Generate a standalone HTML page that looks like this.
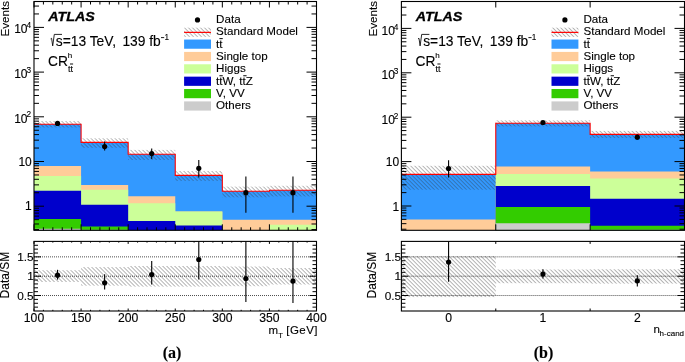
<!DOCTYPE html><html><head><meta charset="utf-8"><style>html,body{margin:0;padding:0;background:#fff;overflow:hidden;}svg{display:block;will-change:transform;filter:blur(0.3px);}text{stroke:#000;stroke-width:0.12px;}text.atl{stroke-width:0.3px;}</style></head><body><svg width="685" height="362" viewBox="0 0 685 362" font-family='"Liberation Sans", sans-serif'>
<defs>
<pattern id="hatchM" patternUnits="userSpaceOnUse" width="2.83" height="2.83" patternTransform="rotate(-45)"><line x1="0" y1="-1" x2="0" y2="3.83" stroke="#333" stroke-width="0.7"/></pattern>
<pattern id="hatchR" patternUnits="userSpaceOnUse" width="2.83" height="2.83" patternTransform="rotate(-45)"><line x1="0" y1="-1" x2="0" y2="3.83" stroke="#444" stroke-width="0.8"/></pattern>
</defs>
<rect width="685" height="362" fill="#fff"/>
<path d="M34,230.3 L34,124.3 L81.08,124.3 L81.08,142.4 L128.17,142.4 L128.17,154.2 L175.25,154.2 L175.25,175.4 L222.33,175.4 L222.33,191.2 L269.42,191.2 L269.42,190.2 L316.5,190.2 L316.5,230.3Z" fill="#3399ff"/>
<path d="M34,230.3 L34,166 L81.08,166 L81.08,185 L128.17,185 L128.17,196.3 L175.25,196.3 L175.25,211.4 L222.33,211.4 L222.33,219.7 L269.42,219.7 L269.42,219.7 L316.5,219.7 L316.5,230.3Z" fill="#ffcc99"/>
<path d="M34,230.3 L34,175.9 L81.08,175.9 L81.08,189.8 L128.17,189.8 L128.17,203.3 L175.25,203.3 L175.25,211.4 L222.33,211.4 L222.33,230.3 L269.42,230.3 L269.42,224.8 L316.5,224.8 L316.5,230.3Z" fill="#ccff99"/>
<path d="M34,230.3 L34,190.8 L81.08,190.8 L81.08,204.8 L128.17,204.8 L128.17,220.9 L175.25,220.9 L175.25,225.5 L222.33,225.5 L222.33,230.3 L269.42,230.3 L269.42,230.3 L316.5,230.3 L316.5,230.3Z" fill="#0000cc"/>
<path d="M34,230.3 L34,219.1 L81.08,219.1 L81.08,226.5 L128.17,226.5 L128.17,230.3 L175.25,230.3 L175.25,230.3 L222.33,230.3 L222.33,230.3 L269.42,230.3 L269.42,230.3 L316.5,230.3 L316.5,230.3Z" fill="#33cc00"/>
<path d="M34,230.3 L34,228.7 L81.08,228.7 L81.08,229.8 L128.17,229.8 L128.17,230.3 L175.25,230.3 L175.25,230.3 L222.33,230.3 L222.33,230.3 L269.42,230.3 L269.42,230.3 L316.5,230.3 L316.5,230.3Z" fill="#cccccc"/>
<rect x="34" y="121" width="47.08" height="6.5" fill="url(#hatchM)"/>
<rect x="81.08" y="138.3" width="47.08" height="9.5" fill="url(#hatchM)"/>
<rect x="128.17" y="149.9" width="47.08" height="10.1" fill="url(#hatchM)"/>
<rect x="175.25" y="171" width="47.08" height="9.9" fill="url(#hatchM)"/>
<rect x="222.33" y="186.6" width="47.08" height="10.7" fill="url(#hatchM)"/>
<rect x="269.42" y="185.8" width="47.08" height="10.6" fill="url(#hatchM)"/>
<path d="M34,124.3 L81.08,124.3 L81.08,142.4 L128.17,142.4 L128.17,154.2 L175.25,154.2 L175.25,175.4 L222.33,175.4 L222.33,191.2 L269.42,191.2 L269.42,190.2 L316.5,190.2" fill="none" stroke="#ff0000" stroke-width="1.1"/>
<path d="M34,1.5v6M34,230.3v-6M81.08,1.5v6M81.08,230.3v-6M128.17,1.5v6M128.17,230.3v-6M175.25,1.5v6M175.25,230.3v-6M222.33,1.5v6M222.33,230.3v-6M269.42,1.5v6M269.42,230.3v-6M316.5,1.5v6M316.5,230.3v-6M43.42,1.5v3M43.42,230.3v-3M52.83,1.5v3M52.83,230.3v-3M62.25,1.5v3M62.25,230.3v-3M71.67,1.5v3M71.67,230.3v-3M90.5,1.5v3M90.5,230.3v-3M99.92,1.5v3M99.92,230.3v-3M109.33,1.5v3M109.33,230.3v-3M118.75,1.5v3M118.75,230.3v-3M137.58,1.5v3M137.58,230.3v-3M147,1.5v3M147,230.3v-3M156.42,1.5v3M156.42,230.3v-3M165.83,1.5v3M165.83,230.3v-3M184.67,1.5v3M184.67,230.3v-3M194.08,1.5v3M194.08,230.3v-3M203.5,1.5v3M203.5,230.3v-3M212.92,1.5v3M212.92,230.3v-3M231.75,1.5v3M231.75,230.3v-3M241.17,1.5v3M241.17,230.3v-3M250.58,1.5v3M250.58,230.3v-3M260,1.5v3M260,230.3v-3M278.83,1.5v3M278.83,230.3v-3M288.25,1.5v3M288.25,230.3v-3M297.67,1.5v3M297.67,230.3v-3M307.08,1.5v3M307.08,230.3v-3M34,229.57h5M316.5,229.57h-5M34,223.99h5M316.5,223.99h-5M34,219.66h5M316.5,219.66h-5M34,216.12h5M316.5,216.12h-5M34,213.12h5M316.5,213.12h-5M34,210.53h5M316.5,210.53h-5M34,208.25h5M316.5,208.25h-5M34,206.2h10M316.5,206.2h-10M34,192.74h5M316.5,192.74h-5M34,184.87h5M316.5,184.87h-5M34,179.29h5M316.5,179.29h-5M34,174.96h5M316.5,174.96h-5M34,171.42h5M316.5,171.42h-5M34,168.42h5M316.5,168.42h-5M34,165.83h5M316.5,165.83h-5M34,163.55h5M316.5,163.55h-5M34,161.5h10M316.5,161.5h-10M34,148.04h5M316.5,148.04h-5M34,140.17h5M316.5,140.17h-5M34,134.59h5M316.5,134.59h-5M34,130.26h5M316.5,130.26h-5M34,126.72h5M316.5,126.72h-5M34,123.72h5M316.5,123.72h-5M34,121.13h5M316.5,121.13h-5M34,118.85h5M316.5,118.85h-5M34,116.8h10M316.5,116.8h-10M34,103.34h5M316.5,103.34h-5M34,95.47h5M316.5,95.47h-5M34,89.89h5M316.5,89.89h-5M34,85.56h5M316.5,85.56h-5M34,82.02h5M316.5,82.02h-5M34,79.02h5M316.5,79.02h-5M34,76.43h5M316.5,76.43h-5M34,74.15h5M316.5,74.15h-5M34,72.1h10M316.5,72.1h-10M34,58.64h5M316.5,58.64h-5M34,50.77h5M316.5,50.77h-5M34,45.19h5M316.5,45.19h-5M34,40.86h5M316.5,40.86h-5M34,37.32h5M316.5,37.32h-5M34,34.32h5M316.5,34.32h-5M34,31.73h5M316.5,31.73h-5M34,29.45h5M316.5,29.45h-5M34,27.4h10M316.5,27.4h-10M34,13.94h5M316.5,13.94h-5M34,6.07h5M316.5,6.07h-5" stroke="#000" stroke-width="1" fill="none"/>
<rect x="34" y="1.5" width="282.5" height="228.8" fill="none" stroke="#000" stroke-width="1.1"/>
<circle cx="57.54" cy="123.4" r="2.6" fill="#000"/>
<line x1="104.63" y1="141.6" x2="104.63" y2="150.5" stroke="#000" stroke-width="1.1" />
<circle cx="104.63" cy="146.6" r="2.6" fill="#000"/>
<line x1="151.71" y1="148.4" x2="151.71" y2="159" stroke="#000" stroke-width="1.1" />
<circle cx="151.71" cy="153.6" r="2.6" fill="#000"/>
<line x1="198.79" y1="160.1" x2="198.79" y2="177.4" stroke="#000" stroke-width="1.1" />
<circle cx="198.79" cy="168.3" r="2.6" fill="#000"/>
<line x1="245.88" y1="176.6" x2="245.88" y2="212.8" stroke="#000" stroke-width="1.1" />
<circle cx="245.88" cy="192.7" r="2.6" fill="#000"/>
<line x1="292.96" y1="176.6" x2="292.96" y2="212.8" stroke="#000" stroke-width="1.1" />
<circle cx="292.96" cy="192.7" r="2.6" fill="#000"/>
<text x="31.8" y="210.3" font-size="12.0" text-anchor="end" >1</text>
<text x="31.8" y="165.9" font-size="12.0" text-anchor="end" >10</text>
<text x="27.5" y="122.5" font-size="12" text-anchor="end">10</text>
<text x="26.4" y="117.2" font-size="8.3">2</text>
<text x="27.5" y="77.8" font-size="12" text-anchor="end">10</text>
<text x="26.4" y="72.5" font-size="8.3">3</text>
<text x="27.5" y="33.1" font-size="12" text-anchor="end">10</text>
<text x="26.4" y="27.8" font-size="8.3">4</text>
<rect x="34" y="270.2" width="47.08" height="11.8" fill="url(#hatchR)"/>
<rect x="81.08" y="267.1" width="47.08" height="18.6" fill="url(#hatchR)"/>
<rect x="128.17" y="266" width="47.08" height="20.6" fill="url(#hatchR)"/>
<rect x="175.25" y="266" width="47.08" height="20.6" fill="url(#hatchR)"/>
<rect x="222.33" y="266.5" width="47.08" height="19.7" fill="url(#hatchR)"/>
<rect x="269.42" y="268" width="47.08" height="16.5" fill="url(#hatchR)"/>
<line x1="34" y1="256.87" x2="316.5" y2="256.87" stroke="#000" stroke-width="0.7" stroke-dasharray="1,1"/>
<line x1="34" y1="295.53" x2="316.5" y2="295.53" stroke="#000" stroke-width="0.7" stroke-dasharray="1,1"/>
<line x1="34" y1="276.2" x2="316.5" y2="276.2" stroke="#000" stroke-width="0.7" stroke-dasharray="1,1"/>
<path d="M34,241.4v2.5M34,311v-2.5M81.08,241.4v2.5M81.08,311v-2.5M128.17,241.4v2.5M128.17,311v-2.5M175.25,241.4v2.5M175.25,311v-2.5M222.33,241.4v2.5M222.33,311v-2.5M269.42,241.4v2.5M269.42,311v-2.5M316.5,241.4v2.5M316.5,311v-2.5M43.42,241.4v1.2M43.42,311v-1.2M52.83,241.4v1.2M52.83,311v-1.2M62.25,241.4v1.2M62.25,311v-1.2M71.67,241.4v1.2M71.67,311v-1.2M90.5,241.4v1.2M90.5,311v-1.2M99.92,241.4v1.2M99.92,311v-1.2M109.33,241.4v1.2M109.33,311v-1.2M118.75,241.4v1.2M118.75,311v-1.2M137.58,241.4v1.2M137.58,311v-1.2M147,241.4v1.2M147,311v-1.2M156.42,241.4v1.2M156.42,311v-1.2M165.83,241.4v1.2M165.83,311v-1.2M184.67,241.4v1.2M184.67,311v-1.2M194.08,241.4v1.2M194.08,311v-1.2M203.5,241.4v1.2M203.5,311v-1.2M212.92,241.4v1.2M212.92,311v-1.2M231.75,241.4v1.2M231.75,311v-1.2M241.17,241.4v1.2M241.17,311v-1.2M250.58,241.4v1.2M250.58,311v-1.2M260,241.4v1.2M260,311v-1.2M278.83,241.4v1.2M278.83,311v-1.2M288.25,241.4v1.2M288.25,311v-1.2M297.67,241.4v1.2M297.67,311v-1.2M307.08,241.4v1.2M307.08,311v-1.2M34,307.13h4M316.5,307.13h-4M34,303.27h4M316.5,303.27h-4M34,299.4h4M316.5,299.4h-4M34,295.53h7M316.5,295.53h-7M34,291.67h4M316.5,291.67h-4M34,287.8h4M316.5,287.8h-4M34,283.93h4M316.5,283.93h-4M34,280.07h4M316.5,280.07h-4M34,276.2h7M316.5,276.2h-7M34,272.33h4M316.5,272.33h-4M34,268.47h4M316.5,268.47h-4M34,264.6h4M316.5,264.6h-4M34,260.73h4M316.5,260.73h-4M34,256.87h7M316.5,256.87h-7M34,253h4M316.5,253h-4M34,249.13h4M316.5,249.13h-4M34,245.27h4M316.5,245.27h-4" stroke="#000" stroke-width="1" fill="none"/>
<rect x="34" y="241.4" width="282.5" height="69.6" fill="none" stroke="#000" stroke-width="1.1"/>
<line x1="57.54" y1="269.8" x2="57.54" y2="279.6" stroke="#000" stroke-width="1.1" />
<circle cx="57.54" cy="275.2" r="2.6" fill="#000"/>
<line x1="104.63" y1="274.2" x2="104.63" y2="289.5" stroke="#000" stroke-width="1.1" />
<circle cx="104.63" cy="282.8" r="2.6" fill="#000"/>
<line x1="151.71" y1="261" x2="151.71" y2="284.4" stroke="#000" stroke-width="1.1" />
<circle cx="151.71" cy="274.6" r="2.6" fill="#000"/>
<line x1="198.79" y1="241.4" x2="198.79" y2="279.6" stroke="#000" stroke-width="1.1" />
<circle cx="198.79" cy="259.5" r="2.6" fill="#000"/>
<line x1="245.88" y1="241.4" x2="245.88" y2="302" stroke="#000" stroke-width="1.1" />
<circle cx="245.88" cy="278.5" r="2.6" fill="#000"/>
<line x1="292.96" y1="241.4" x2="292.96" y2="303" stroke="#000" stroke-width="1.1" />
<circle cx="292.96" cy="281.1" r="2.6" fill="#000"/>
<text x="33.7" y="261.07" font-size="11.8" text-anchor="end" >1.5</text>
<text x="33.7" y="280.4" font-size="11.8" text-anchor="end" >1</text>
<text x="33.7" y="299.73" font-size="11.8" text-anchor="end" >0.5</text>
<text x="34" y="321.6" font-size="12.2" text-anchor="middle" >100</text>
<text x="81.08" y="321.6" font-size="12.2" text-anchor="middle" >150</text>
<text x="128.17" y="321.6" font-size="12.2" text-anchor="middle" >200</text>
<text x="175.25" y="321.6" font-size="12.2" text-anchor="middle" >250</text>
<text x="222.33" y="321.6" font-size="12.2" text-anchor="middle" >300</text>
<text x="269.42" y="321.6" font-size="12.2" text-anchor="middle" >350</text>
<text x="316.5" y="321.6" font-size="12.2" text-anchor="middle" >400</text>
<path d="M401.4,230.3 L401.4,174.4 L495.77,174.4 L495.77,123.2 L590.13,123.2 L590.13,134.4 L684.5,134.4 L684.5,230.3Z" fill="#3399ff"/>
<path d="M401.4,230.3 L401.4,219.5 L495.77,219.5 L495.77,166.6 L590.13,166.6 L590.13,171.4 L684.5,171.4 L684.5,230.3Z" fill="#ffcc99"/>
<path d="M401.4,230.3 L401.4,230.3 L495.77,230.3 L495.77,173.9 L590.13,173.9 L590.13,178.6 L684.5,178.6 L684.5,230.3Z" fill="#ccff99"/>
<path d="M401.4,230.3 L401.4,230.3 L495.77,230.3 L495.77,185.9 L590.13,185.9 L590.13,198.7 L684.5,198.7 L684.5,230.3Z" fill="#0000cc"/>
<path d="M401.4,230.3 L401.4,230.3 L495.77,230.3 L495.77,207 L590.13,207 L590.13,225.8 L684.5,225.8 L684.5,230.3Z" fill="#33cc00"/>
<path d="M401.4,230.3 L401.4,230.3 L495.77,230.3 L495.77,223.2 L590.13,223.2 L590.13,229.7 L684.5,229.7 L684.5,230.3Z" fill="#cccccc"/>
<rect x="401.4" y="165.8" width="94.37" height="23.9" fill="url(#hatchM)"/>
<rect x="495.77" y="120.4" width="94.37" height="6" fill="url(#hatchM)"/>
<rect x="590.13" y="130.9" width="94.37" height="7" fill="url(#hatchM)"/>
<path d="M401.4,174.4 L495.77,174.4 L495.77,123.2 L590.13,123.2 L590.13,134.4 L684.5,134.4" fill="none" stroke="#ff0000" stroke-width="1.1"/>
<path d="M495.77,1.5v6M495.77,230.3v-6M590.13,1.5v6M590.13,230.3v-6M401.4,229.22h5M684.5,229.22h-5M401.4,223.67h5M684.5,223.67h-5M401.4,219.37h5M684.5,219.37h-5M401.4,215.85h5M684.5,215.85h-5M401.4,212.88h5M684.5,212.88h-5M401.4,210.3h5M684.5,210.3h-5M401.4,208.03h5M684.5,208.03h-5M401.4,206h10M684.5,206h-10M401.4,192.63h5M684.5,192.63h-5M401.4,184.82h5M684.5,184.82h-5M401.4,179.27h5M684.5,179.27h-5M401.4,174.97h5M684.5,174.97h-5M401.4,171.45h5M684.5,171.45h-5M401.4,168.48h5M684.5,168.48h-5M401.4,165.9h5M684.5,165.9h-5M401.4,163.63h5M684.5,163.63h-5M401.4,161.6h10M684.5,161.6h-10M401.4,148.23h5M684.5,148.23h-5M401.4,140.42h5M684.5,140.42h-5M401.4,134.87h5M684.5,134.87h-5M401.4,130.57h5M684.5,130.57h-5M401.4,127.05h5M684.5,127.05h-5M401.4,124.08h5M684.5,124.08h-5M401.4,121.5h5M684.5,121.5h-5M401.4,119.23h5M684.5,119.23h-5M401.4,117.2h10M684.5,117.2h-10M401.4,103.83h5M684.5,103.83h-5M401.4,96.02h5M684.5,96.02h-5M401.4,90.47h5M684.5,90.47h-5M401.4,86.17h5M684.5,86.17h-5M401.4,82.65h5M684.5,82.65h-5M401.4,79.68h5M684.5,79.68h-5M401.4,77.1h5M684.5,77.1h-5M401.4,74.83h5M684.5,74.83h-5M401.4,72.8h10M684.5,72.8h-10M401.4,59.43h5M684.5,59.43h-5M401.4,51.62h5M684.5,51.62h-5M401.4,46.07h5M684.5,46.07h-5M401.4,41.77h5M684.5,41.77h-5M401.4,38.25h5M684.5,38.25h-5M401.4,35.28h5M684.5,35.28h-5M401.4,32.7h5M684.5,32.7h-5M401.4,30.43h5M684.5,30.43h-5M401.4,28.4h10M684.5,28.4h-10M401.4,15.03h5M684.5,15.03h-5M401.4,7.22h5M684.5,7.22h-5" stroke="#000" stroke-width="1" fill="none"/>
<rect x="401.4" y="1.5" width="283.1" height="228.8" fill="none" stroke="#000" stroke-width="1.1"/>
<line x1="448.58" y1="160.2" x2="448.58" y2="177.4" stroke="#000" stroke-width="1.1" />
<circle cx="448.58" cy="168.5" r="2.6" fill="#000"/>
<circle cx="542.95" cy="122.5" r="2.6" fill="#000"/>
<line x1="637.32" y1="134.7" x2="637.32" y2="139.7" stroke="#000" stroke-width="1.1" />
<circle cx="637.32" cy="137.2" r="2.6" fill="#000"/>
<text x="399.2" y="211" font-size="12.0" text-anchor="end" >1</text>
<text x="399.2" y="166.45" font-size="12.0" text-anchor="end" >10</text>
<text x="394.9" y="123.8" font-size="12" text-anchor="end">10</text>
<text x="393.8" y="118.5" font-size="8.3">2</text>
<text x="394.9" y="79.4" font-size="12" text-anchor="end">10</text>
<text x="393.8" y="74.1" font-size="8.3">3</text>
<text x="394.9" y="35" font-size="12" text-anchor="end">10</text>
<text x="393.8" y="29.7" font-size="8.3">4</text>
<rect x="401.4" y="256" width="94.37" height="41.1" fill="url(#hatchR)"/>
<rect x="495.77" y="269.5" width="94.37" height="13.7" fill="url(#hatchR)"/>
<rect x="590.13" y="269.3" width="94.37" height="14.3" fill="url(#hatchR)"/>
<line x1="401.4" y1="256.87" x2="684.5" y2="256.87" stroke="#000" stroke-width="0.7" stroke-dasharray="1,1"/>
<line x1="401.4" y1="295.53" x2="684.5" y2="295.53" stroke="#000" stroke-width="0.7" stroke-dasharray="1,1"/>
<line x1="401.4" y1="276.2" x2="684.5" y2="276.2" stroke="#000" stroke-width="0.7" stroke-dasharray="1,1"/>
<path d="M495.77,241.4v2.5M495.77,311v-2.5M590.13,241.4v2.5M590.13,311v-2.5M401.4,307.13h4M684.5,307.13h-4M401.4,303.27h4M684.5,303.27h-4M401.4,299.4h4M684.5,299.4h-4M401.4,295.53h7M684.5,295.53h-7M401.4,291.67h4M684.5,291.67h-4M401.4,287.8h4M684.5,287.8h-4M401.4,283.93h4M684.5,283.93h-4M401.4,280.07h4M684.5,280.07h-4M401.4,276.2h7M684.5,276.2h-7M401.4,272.33h4M684.5,272.33h-4M401.4,268.47h4M684.5,268.47h-4M401.4,264.6h4M684.5,264.6h-4M401.4,260.73h4M684.5,260.73h-4M401.4,256.87h7M684.5,256.87h-7M401.4,253h4M684.5,253h-4M401.4,249.13h4M684.5,249.13h-4M401.4,245.27h4M684.5,245.27h-4" stroke="#000" stroke-width="1" fill="none"/>
<rect x="401.4" y="241.4" width="283.1" height="69.6" fill="none" stroke="#000" stroke-width="1.1"/>
<line x1="448.58" y1="241.4" x2="448.58" y2="281.8" stroke="#000" stroke-width="1.1" />
<circle cx="448.58" cy="262.1" r="2.6" fill="#000"/>
<line x1="542.95" y1="269.3" x2="542.95" y2="278.4" stroke="#000" stroke-width="1.1" />
<circle cx="542.95" cy="274.1" r="2.6" fill="#000"/>
<line x1="637.32" y1="275.3" x2="637.32" y2="286.6" stroke="#000" stroke-width="1.1" />
<circle cx="637.32" cy="280.8" r="2.6" fill="#000"/>
<text x="401.1" y="261.07" font-size="11.8" text-anchor="end" >1.5</text>
<text x="401.1" y="280.4" font-size="11.8" text-anchor="end" >1</text>
<text x="401.1" y="299.73" font-size="11.8" text-anchor="end" >0.5</text>
<text x="448.58" y="321.6" font-size="12.2" text-anchor="middle" >0</text>
<text x="542.95" y="321.6" font-size="12.2" text-anchor="middle" >1</text>
<text x="637.32" y="321.6" font-size="12.2" text-anchor="middle" >2</text>
<text transform="translate(9.1,36.4) rotate(-90)" font-size="11.8" textLength="35.4" lengthAdjust="spacingAndGlyphs">Events</text>
<text transform="translate(8.9,298.4) rotate(-90)" font-size="12.3" textLength="46.6" lengthAdjust="spacingAndGlyphs">Data/SM</text>
<text x="48.3" y="20.9" font-size="13.1" font-weight="bold" font-style="italic" textLength="46.6" lengthAdjust="spacingAndGlyphs" class="atl">ATLAS</text>
<path d="M50.6,38.9 L51.6,38.3 L52.7,45.9 L54.3,34.4 L62,34.4" fill="none" stroke="#000" stroke-width="0.85"/>
<text x="55.8" y="45.7" font-size="13.8">s=13 TeV,</text>
<text x="122.4" y="45.7" font-size="13.8">139 fb</text>
<line x1="161" y1="37.6" x2="164.2" y2="37.6" stroke="#000" stroke-width="0.9" />
<text x="164.4" y="39.6" font-size="8.2">1</text>
<text x="48.1" y="65.8" font-size="13.8">CR</text>
<text x="67.8" y="58.4" font-size="8">h</text>
<text x="68" y="71.6" font-size="9">tt</text>
<line x1="70" y1="64" x2="73.1" y2="64" stroke="#000" stroke-width="0.95" />
<circle cx="197.5" cy="19.9" r="2.6" fill="#000"/>
<rect x="184.1" y="27.67" width="26.9" height="9.2" fill="url(#hatchM)"/>
<line x1="184.1" y1="32.37" x2="211" y2="32.37" stroke="#ff0000" stroke-width="1.2" />
<rect x="184.1" y="39.54" width="26.9" height="9.2" fill="#3399ff"/>
<rect x="184.1" y="51.91" width="26.9" height="9.2" fill="#ffcc99"/>
<rect x="184.1" y="64.28" width="26.9" height="9.2" fill="#ccff99"/>
<rect x="184.1" y="76.65" width="26.9" height="9.2" fill="#0000cc"/>
<rect x="184.1" y="89.02" width="26.9" height="9.2" fill="#33cc00"/>
<rect x="184.1" y="101.39" width="26.9" height="9.2" fill="#cccccc"/>
<text x="216.1" y="22.8" font-size="11.6" text-anchor="start" >Data</text>
<text x="216.1" y="35.17" font-size="11.6" text-anchor="start" >Standard Model</text>
<text x="216.1" y="47.54" font-size="11.6" text-anchor="start" >tt</text>
<text x="216.1" y="59.91" font-size="11.6" text-anchor="start" >Single top</text>
<text x="216.1" y="72.28" font-size="11.6" text-anchor="start" >Higgs</text>
<text x="216.1" y="84.65" font-size="11.6" text-anchor="start" >ttW, ttZ</text>
<text x="216.1" y="97.02" font-size="11.6" text-anchor="start" >V, VV</text>
<text x="216.1" y="109.39" font-size="11.6" text-anchor="start" >Others</text>
<line x1="219.42" y1="38.64" x2="222.75" y2="38.64" stroke="#000" stroke-width="1.0" />
<line x1="219.42" y1="75.75" x2="222.75" y2="75.75" stroke="#000" stroke-width="1.0" />
<line x1="243.26" y1="75.75" x2="246.59" y2="75.75" stroke="#000" stroke-width="1.0" />
<text transform="translate(376.5,36.4) rotate(-90)" font-size="11.8" textLength="35.4" lengthAdjust="spacingAndGlyphs">Events</text>
<text transform="translate(376.3,298.4) rotate(-90)" font-size="12.3" textLength="46.6" lengthAdjust="spacingAndGlyphs">Data/SM</text>
<text x="415.7" y="20.9" font-size="13.1" font-weight="bold" font-style="italic" textLength="46.6" lengthAdjust="spacingAndGlyphs" class="atl">ATLAS</text>
<path d="M418,38.9 L419,38.3 L420.1,45.9 L421.7,34.4 L429.4,34.4" fill="none" stroke="#000" stroke-width="0.85"/>
<text x="423.2" y="45.7" font-size="13.8">s=13 TeV,</text>
<text x="489.8" y="45.7" font-size="13.8">139 fb</text>
<line x1="528.4" y1="37.6" x2="531.6" y2="37.6" stroke="#000" stroke-width="0.9" />
<text x="531.8" y="39.6" font-size="8.2">1</text>
<text x="415.5" y="65.8" font-size="13.8">CR</text>
<text x="435.2" y="58.4" font-size="8">h</text>
<text x="435.4" y="71.6" font-size="9">tt</text>
<line x1="437.4" y1="64" x2="440.5" y2="64" stroke="#000" stroke-width="0.95" />
<circle cx="564.9" cy="19.9" r="2.6" fill="#000"/>
<rect x="551.5" y="27.67" width="26.9" height="9.2" fill="url(#hatchM)"/>
<line x1="551.5" y1="32.37" x2="578.4" y2="32.37" stroke="#ff0000" stroke-width="1.2" />
<rect x="551.5" y="39.54" width="26.9" height="9.2" fill="#3399ff"/>
<rect x="551.5" y="51.91" width="26.9" height="9.2" fill="#ffcc99"/>
<rect x="551.5" y="64.28" width="26.9" height="9.2" fill="#ccff99"/>
<rect x="551.5" y="76.65" width="26.9" height="9.2" fill="#0000cc"/>
<rect x="551.5" y="89.02" width="26.9" height="9.2" fill="#33cc00"/>
<rect x="551.5" y="101.39" width="26.9" height="9.2" fill="#cccccc"/>
<text x="583.5" y="22.8" font-size="11.6" text-anchor="start" >Data</text>
<text x="583.5" y="35.17" font-size="11.6" text-anchor="start" >Standard Model</text>
<text x="583.5" y="47.54" font-size="11.6" text-anchor="start" >tt</text>
<text x="583.5" y="59.91" font-size="11.6" text-anchor="start" >Single top</text>
<text x="583.5" y="72.28" font-size="11.6" text-anchor="start" >Higgs</text>
<text x="583.5" y="84.65" font-size="11.6" text-anchor="start" >ttW, ttZ</text>
<text x="583.5" y="97.02" font-size="11.6" text-anchor="start" >V, VV</text>
<text x="583.5" y="109.39" font-size="11.6" text-anchor="start" >Others</text>
<line x1="586.82" y1="38.64" x2="590.15" y2="38.64" stroke="#000" stroke-width="1.0" />
<line x1="586.82" y1="75.75" x2="590.15" y2="75.75" stroke="#000" stroke-width="1.0" />
<line x1="610.66" y1="75.75" x2="613.99" y2="75.75" stroke="#000" stroke-width="1.0" />
<text x="268.6" y="334.1" font-size="11.5">m</text>
<text x="278.2" y="337.6" font-size="7.8">T</text>
<text x="286.3" y="334.1" font-size="11.5" textLength="31.2" lengthAdjust="spacing">[GeV]</text>
<text x="653.6" y="332.6" font-size="11.6">n</text>
<text x="659.6" y="336.3" font-size="8">h-cand</text>
<text x="172" y="357.9" font-size="16" font-family='"Liberation Serif", serif' font-weight="bold" text-anchor="middle">(a)</text>
<text x="543.5" y="357.9" font-size="16" font-family='"Liberation Serif", serif' font-weight="bold" text-anchor="middle">(b)</text>
</svg></body></html>
